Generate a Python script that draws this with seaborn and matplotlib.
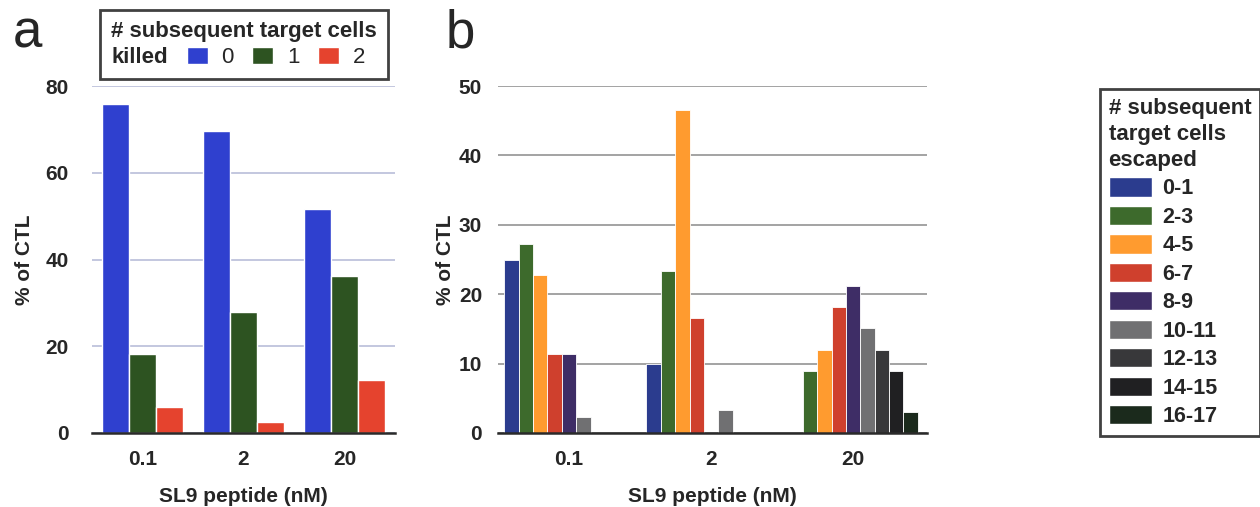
import numpy as np
import pandas as pd
import matplotlib
matplotlib.use('Agg')
import matplotlib.pyplot as plt
import seaborn as sns
from matplotlib.patches import Patch

# Data
doses = ['0.1', '2', '20']

killed_groups = ['0', '1', '2']
killed_vals = {
    '0': [75.8, 69.6, 51.6],
    '1': [18.1, 27.8, 36.3],
    '2': [5.9, 2.6, 12.2],
}
killed_colors = ['#2F40CF', '#2D5321', '#E5432E']

escaped_groups = ['0-1', '2-3', '4-5', '6-7', '8-9', '10-11', '12-13', '14-15', '16-17']
escaped_vals = {
    '0-1':   [25.0, 10.0, 0.0],
    '2-3':   [27.3, 23.3, 9.0],
    '4-5':   [22.7, 46.6, 12.0],
    '6-7':   [11.4, 16.6, 18.1],
    '8-9':   [11.4, 0.0, 21.2],
    '10-11': [2.3, 3.3, 15.1],
    '12-13': [0.0, 0.0, 12.0],
    '14-15': [0.0, 0.0, 8.9],
    '16-17': [0.0, 0.0, 3.0],
}
escaped_colors = ['#2B3C8E', '#3D6A2C', '#FF9B2F', '#CF402D', '#3E2D66',
                  '#707072', '#38383A', '#202022', '#1B2A1C']

df_a = pd.DataFrame([(d, g, killed_vals[g][i]) for g in killed_groups for i, d in enumerate(doses)],
                    columns=['dose', 'killed', 'pct'])
df_b = pd.DataFrame([(d, g, escaped_vals[g][i]) for g in escaped_groups for i, d in enumerate(doses)],
                    columns=['dose', 'escaped', 'pct'])

sns.set_style('white')
plt.rcParams['font.family'] = ['Liberation Sans', 'DejaVu Sans']

fig = plt.figure(figsize=(12.6, 5.07), dpi=100)
W, H = 1260, 507
ax_a = fig.add_axes([92 / W, 1 - 433 / H, (395 - 92) / W, (433 - 86) / H])
ax_b = fig.add_axes([498 / W, 1 - 433 / H, (927 - 498) / W, (433 - 86) / H])

sns.barplot(data=df_a, x='dose', y='pct', hue='killed', order=doses, hue_order=killed_groups,
            palette=killed_colors, width=0.8, gap=0, edgecolor='white', linewidth=1,
            saturation=1, ax=ax_a, legend=False)
sns.barplot(data=df_b, x='dose', y='pct', hue='escaped', order=doses, hue_order=escaped_groups,
            palette=escaped_colors, width=0.91, gap=0, edgecolor='white', linewidth=0.6,
            saturation=1, ax=ax_b, legend=False)

settings = [(ax_a, 80, 20, '#b9bdd9', -0.19, 17, (-0.5, 2.5)),
            (ax_b, 50, 10, '#949494', -0.10, 11.5, (-0.5, 2.52))]
for ax, top, step, gcol, lab_x, ypad, xl in settings:
    ax.set_xlim(*xl)
    ax.set_ylim(0, top)
    ax.set_yticks(np.arange(0, top + 1, step))
    ax.yaxis.grid(True, color=gcol, linewidth=1.2)
    ax.set_axisbelow(True)
    for s in ['top', 'right', 'left']:
        ax.spines[s].set_visible(False)
    ax.spines['bottom'].set_color('#2a2a2a')
    ax.spines['bottom'].set_linewidth(1.8)
    ax.tick_params(axis='both', length=0, labelsize=15)
    ax.tick_params(axis='y', pad=ypad)
    ax.tick_params(axis='x', pad=12)
    for t in ax.get_xticklabels() + ax.get_yticklabels():
        t.set_fontweight('bold')
    ax.set_ylabel('% of CTL', fontsize=15, fontweight='bold')
    ax.set_xlabel('SL9 peptide (nM)', fontsize=15, fontweight='bold', labelpad=13)
    ax.yaxis.set_label_coords(lab_x, 0.5)

# Legend a
h_a = [Patch(visible=False)] + [Patch(facecolor=c) for c in killed_colors]
leg_a = fig.legend(h_a, ['killed'] + killed_groups, ncol=4, loc='upper left',
                   bbox_to_anchor=(100 / W, 1 - 10 / H), title='# subsequent target cells',
                   alignment='left', fontsize=16, frameon=True, fancybox=False,
                   handlelength=0.95, handleheight=0.85, handletextpad=0.6, columnspacing=0.85,
                   borderpad=0.5, borderaxespad=0, labelspacing=0.2)
leg_a.get_title().set_fontweight('bold')
leg_a.get_title().set_fontsize(16)
leg_a.texts[0].set_fontweight('bold')
leg_a.get_frame().set_edgecolor('#111111')
leg_a.get_frame().set_linewidth(2)
first = leg_a._legend_handle_box.get_children()[0].get_children()[0]
first._children = [first._children[1]]

# Legend b
h_b = [Patch(facecolor=c) for c in escaped_colors]
leg_b = fig.legend(h_b, escaped_groups, loc='upper left', bbox_to_anchor=(1100 / W, 1 - 89 / H),
                   title='# subsequent\ntarget cells\nescaped', alignment='left', fontsize=15.5,
                   frameon=True, fancybox=False, handlelength=2.0, handleheight=1.0,
                   labelspacing=0.3, handletextpad=0.5, borderpad=0.4, borderaxespad=0)
leg_b.get_title().set_fontweight('bold')
leg_b.get_title().set_fontsize(16)
leg_b.get_title().set_linespacing(1.32)
for t in leg_b.texts:
    t.set_fontweight('bold')
leg_b.get_frame().set_edgecolor('#111111')
leg_b.get_frame().set_linewidth(2)

# Panel letters
fig.text(13 / W, 1 - 48 / H, 'a', fontsize=38, va='baseline')
fig.text(446 / W, 1 - 48 / H, 'b', fontsize=38, va='baseline')

fig.savefig('out.png', dpi=100)
